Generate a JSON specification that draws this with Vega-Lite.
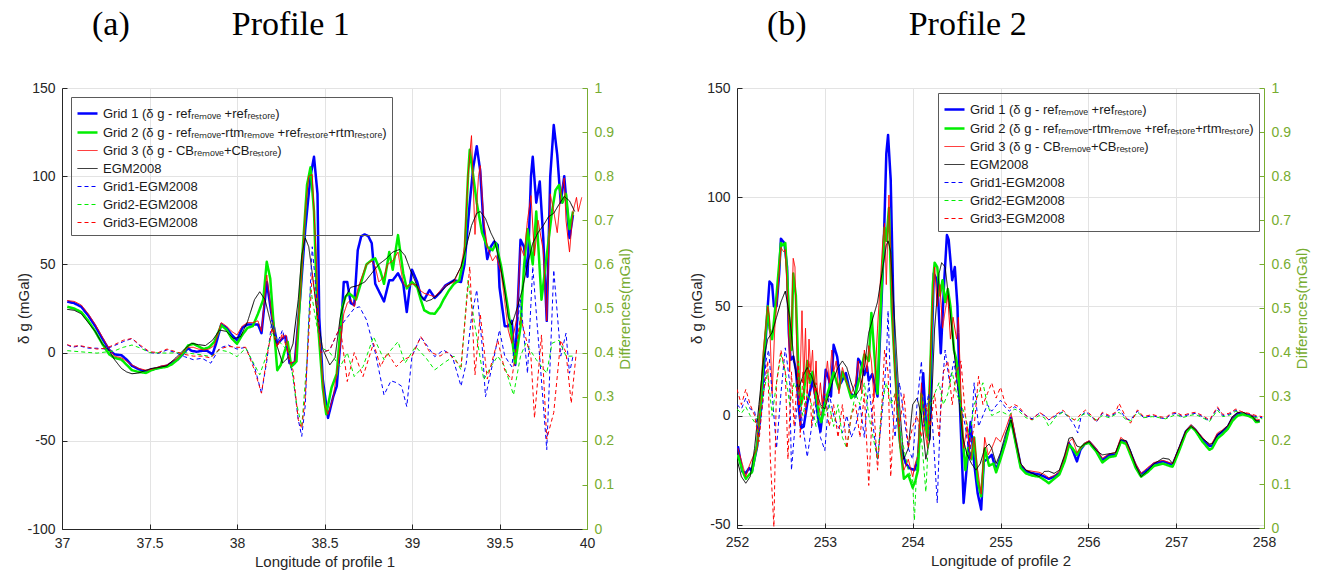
{
  "$schema": "https://vega.github.io/schema/vega-lite/v6.json",
  "padding": {"left": 16, "top": 8, "right": 5, "bottom": 5},
  "config": {
    "locale": {"number": {"decimal": ".", "thousands": ",", "grouping": [3], "currency": ["$", ""], "minus": "-"}},
    "view": {"stroke": null},
    "font": "Liberation Sans",
    "axis": {"labelFont": "Liberation Sans", "labelFontSize": 14, "labelColor": "#262626", "titleFont": "Liberation Sans", "titleFontSize": 15, "titleFontWeight": "normal", "titleColor": "#262626", "domainColor": "#262626", "gridColor": "#e3e3e3", "ticks": true, "tickSize": -5, "tickColor": "#262626", "labelPadding": 12, "labelFlush": false},
    "legend": {"title": null, "fillColor": null, "strokeColor": "#5a5a5a", "padding": 5, "symbolType": "stroke", "symbolSize": 400, "labelFont": "Liberation Sans", "labelFontSize": 13, "labelColor": "#1a1a1a", "rowPadding": -1, "labelLimit": 500},
    "title": {"font": "Liberation Serif", "fontSize": 34, "fontWeight": "normal", "color": "black", "anchor": "start", "frame": "group", "dx": 30, "offset": 39}
  },
  "datasets": {
    "d": [
{"p":1,"s":"g1","x":37.03,"v":29},{"p":1,"s":"g1","x":37.07,"v":28},{"p":1,"s":"g1","x":37.11,"v":26},{"p":1,"s":"g1","x":37.15,"v":21},{"p":1,"s":"g1","x":37.19,"v":15},{"p":1,"s":"g1","x":37.23,"v":8},{"p":1,"s":"g1","x":37.27,"v":1.5},{"p":1,"s":"g1","x":37.3,"v":-1},{"p":1,"s":"g1","x":37.34,"v":-1.5},{"p":1,"s":"g1","x":37.37,"v":-4},{"p":1,"s":"g1","x":37.4,"v":-7.5},{"p":1,"s":"g1","x":37.44,"v":-9.5},{"p":1,"s":"g1","x":37.48,"v":-11},{"p":1,"s":"g1","x":37.51,"v":-9.5},{"p":1,"s":"g1","x":37.54,"v":-9},{"p":1,"s":"g1","x":37.57,"v":-8},{"p":1,"s":"g1","x":37.6,"v":-7.5},{"p":1,"s":"g1","x":37.63,"v":-5.5},{"p":1,"s":"g1","x":37.66,"v":-4},{"p":1,"s":"g1","x":37.69,"v":-1},{"p":1,"s":"g1","x":37.72,"v":2.5},{"p":1,"s":"g1","x":37.74,"v":1},{"p":1,"s":"g1","x":37.77,"v":0.5},{"p":1,"s":"g1","x":37.8,"v":1},{"p":1,"s":"g1","x":37.83,"v":1},{"p":1,"s":"g1","x":37.86,"v":-1},{"p":1,"s":"g1","x":37.88,"v":5},{"p":1,"s":"g1","x":37.91,"v":16},{"p":1,"s":"g1","x":37.94,"v":14},{"p":1,"s":"g1","x":37.97,"v":10},{"p":1,"s":"g1","x":38.0,"v":7},{"p":1,"s":"g1","x":38.03,"v":14},{"p":1,"s":"g1","x":38.06,"v":16},{"p":1,"s":"g1","x":38.09,"v":16},{"p":1,"s":"g1","x":38.12,"v":16},{"p":1,"s":"g1","x":38.14,"v":11},{"p":1,"s":"g1","x":38.17,"v":40},{"p":1,"s":"g1","x":38.2,"v":20},{"p":1,"s":"g1","x":38.23,"v":5},{"p":1,"s":"g1","x":38.26,"v":8},{"p":1,"s":"g1","x":38.28,"v":9},{"p":1,"s":"g1","x":38.3,"v":-6},{"p":1,"s":"g1","x":38.33,"v":-6},{"p":1,"s":"g1","x":38.36,"v":30},{"p":1,"s":"g1","x":38.39,"v":70},{"p":1,"s":"g1","x":38.42,"v":100},{"p":1,"s":"g1","x":38.44,"v":111},{"p":1,"s":"g1","x":38.46,"v":90},{"p":1,"s":"g1","x":38.47,"v":20},{"p":1,"s":"g1","x":38.49,"v":-15},{"p":1,"s":"g1","x":38.52,"v":-37},{"p":1,"s":"g1","x":38.55,"v":-25},{"p":1,"s":"g1","x":38.57,"v":-19},{"p":1,"s":"g1","x":38.59,"v":5},{"p":1,"s":"g1","x":38.61,"v":40},{"p":1,"s":"g1","x":38.63,"v":40},{"p":1,"s":"g1","x":38.65,"v":28},{"p":1,"s":"g1","x":38.67,"v":27},{"p":1,"s":"g1","x":38.69,"v":58},{"p":1,"s":"g1","x":38.71,"v":66},{"p":1,"s":"g1","x":38.73,"v":67},{"p":1,"s":"g1","x":38.75,"v":66},{"p":1,"s":"g1","x":38.77,"v":62},{"p":1,"s":"g1","x":38.79,"v":39},{"p":1,"s":"g1","x":38.82,"v":33},{"p":1,"s":"g1","x":38.84,"v":29},{"p":1,"s":"g1","x":38.87,"v":41},{"p":1,"s":"g1","x":38.89,"v":41},{"p":1,"s":"g1","x":38.92,"v":45},{"p":1,"s":"g1","x":38.95,"v":39},{"p":1,"s":"g1","x":38.97,"v":23},{"p":1,"s":"g1","x":39.0,"v":47},{"p":1,"s":"g1","x":39.03,"v":40},{"p":1,"s":"g1","x":39.05,"v":32},{"p":1,"s":"g1","x":39.07,"v":30},{"p":1,"s":"g1","x":39.1,"v":35.5},{"p":1,"s":"g1","x":39.13,"v":31},{"p":1,"s":"g1","x":39.16,"v":34},{"p":1,"s":"g1","x":39.19,"v":38},{"p":1,"s":"g1","x":39.24,"v":41},{"p":1,"s":"g1","x":39.28,"v":40},{"p":1,"s":"g1","x":39.3,"v":50},{"p":1,"s":"g1","x":39.33,"v":85},{"p":1,"s":"g1","x":39.35,"v":105},{"p":1,"s":"g1","x":39.37,"v":117},{"p":1,"s":"g1","x":39.39,"v":103},{"p":1,"s":"g1","x":39.41,"v":70},{"p":1,"s":"g1","x":39.43,"v":53},{"p":1,"s":"g1","x":39.45,"v":60},{"p":1,"s":"g1","x":39.47,"v":63},{"p":1,"s":"g1","x":39.49,"v":61},{"p":1,"s":"g1","x":39.5,"v":37},{"p":1,"s":"g1","x":39.53,"v":15},{"p":1,"s":"g1","x":39.55,"v":15},{"p":1,"s":"g1","x":39.57,"v":18},{"p":1,"s":"g1","x":39.59,"v":-7},{"p":1,"s":"g1","x":39.62,"v":64},{"p":1,"s":"g1","x":39.64,"v":60},{"p":1,"s":"g1","x":39.66,"v":43},{"p":1,"s":"g1","x":39.68,"v":100},{"p":1,"s":"g1","x":39.69,"v":111},{"p":1,"s":"g1","x":39.71,"v":85},{"p":1,"s":"g1","x":39.73,"v":97},{"p":1,"s":"g1","x":39.75,"v":65},{"p":1,"s":"g1","x":39.77,"v":18},{"p":1,"s":"g1","x":39.79,"v":100},{"p":1,"s":"g1","x":39.81,"v":129},{"p":1,"s":"g1","x":39.83,"v":112},{"p":1,"s":"g1","x":39.85,"v":85},{"p":1,"s":"g1","x":39.87,"v":100},{"p":1,"s":"g1","x":39.9,"v":65},{"p":1,"s":"g1","x":39.92,"v":78},
{"p":1,"s":"g2","x":37.03,"v":26},{"p":1,"s":"g2","x":37.07,"v":25},{"p":1,"s":"g2","x":37.11,"v":23},{"p":1,"s":"g2","x":37.15,"v":18},{"p":1,"s":"g2","x":37.19,"v":12},{"p":1,"s":"g2","x":37.23,"v":5},{"p":1,"s":"g2","x":37.27,"v":-1},{"p":1,"s":"g2","x":37.3,"v":-3},{"p":1,"s":"g2","x":37.34,"v":-4},{"p":1,"s":"g2","x":37.37,"v":-7},{"p":1,"s":"g2","x":37.4,"v":-10},{"p":1,"s":"g2","x":37.44,"v":-11},{"p":1,"s":"g2","x":37.48,"v":-11.5},{"p":1,"s":"g2","x":37.51,"v":-10},{"p":1,"s":"g2","x":37.54,"v":-9},{"p":1,"s":"g2","x":37.57,"v":-8.5},{"p":1,"s":"g2","x":37.6,"v":-8},{"p":1,"s":"g2","x":37.63,"v":-6.5},{"p":1,"s":"g2","x":37.66,"v":-4},{"p":1,"s":"g2","x":37.69,"v":-0.5},{"p":1,"s":"g2","x":37.72,"v":4},{"p":1,"s":"g2","x":37.75,"v":5},{"p":1,"s":"g2","x":37.78,"v":3.5},{"p":1,"s":"g2","x":37.81,"v":2},{"p":1,"s":"g2","x":37.84,"v":3},{"p":1,"s":"g2","x":37.87,"v":6},{"p":1,"s":"g2","x":37.91,"v":15.5},{"p":1,"s":"g2","x":37.94,"v":13},{"p":1,"s":"g2","x":37.97,"v":8},{"p":1,"s":"g2","x":38.0,"v":5},{"p":1,"s":"g2","x":38.03,"v":10},{"p":1,"s":"g2","x":38.06,"v":14},{"p":1,"s":"g2","x":38.09,"v":15},{"p":1,"s":"g2","x":38.12,"v":22},{"p":1,"s":"g2","x":38.15,"v":30},{"p":1,"s":"g2","x":38.17,"v":51.5},{"p":1,"s":"g2","x":38.19,"v":42},{"p":1,"s":"g2","x":38.21,"v":15},{"p":1,"s":"g2","x":38.23,"v":-10},{"p":1,"s":"g2","x":38.25,"v":-7},{"p":1,"s":"g2","x":38.27,"v":0},{"p":1,"s":"g2","x":38.29,"v":6},{"p":1,"s":"g2","x":38.31,"v":-8},{"p":1,"s":"g2","x":38.34,"v":-5},{"p":1,"s":"g2","x":38.37,"v":50},{"p":1,"s":"g2","x":38.4,"v":95},{"p":1,"s":"g2","x":38.42,"v":105},{"p":1,"s":"g2","x":38.44,"v":80},{"p":1,"s":"g2","x":38.46,"v":20},{"p":1,"s":"g2","x":38.49,"v":-20},{"p":1,"s":"g2","x":38.51,"v":-35},{"p":1,"s":"g2","x":38.54,"v":-20},{"p":1,"s":"g2","x":38.57,"v":-12},{"p":1,"s":"g2","x":38.6,"v":25},{"p":1,"s":"g2","x":38.62,"v":31.7},{"p":1,"s":"g2","x":38.64,"v":33.6},{"p":1,"s":"g2","x":38.66,"v":32},{"p":1,"s":"g2","x":38.68,"v":30},{"p":1,"s":"g2","x":38.71,"v":40},{"p":1,"s":"g2","x":38.74,"v":50},{"p":1,"s":"g2","x":38.77,"v":52.5},{"p":1,"s":"g2","x":38.79,"v":53.4},{"p":1,"s":"g2","x":38.82,"v":46},{"p":1,"s":"g2","x":38.84,"v":39},{"p":1,"s":"g2","x":38.87,"v":57},{"p":1,"s":"g2","x":38.89,"v":47},{"p":1,"s":"g2","x":38.92,"v":66.6},{"p":1,"s":"g2","x":38.95,"v":45},{"p":1,"s":"g2","x":38.97,"v":36.4},{"p":1,"s":"g2","x":39.0,"v":40},{"p":1,"s":"g2","x":39.03,"v":37},{"p":1,"s":"g2","x":39.05,"v":30},{"p":1,"s":"g2","x":39.07,"v":24},{"p":1,"s":"g2","x":39.1,"v":22.3},{"p":1,"s":"g2","x":39.13,"v":22},{"p":1,"s":"g2","x":39.16,"v":26},{"p":1,"s":"g2","x":39.18,"v":30},{"p":1,"s":"g2","x":39.21,"v":35},{"p":1,"s":"g2","x":39.24,"v":39},{"p":1,"s":"g2","x":39.27,"v":41},{"p":1,"s":"g2","x":39.3,"v":55},{"p":1,"s":"g2","x":39.32,"v":100},{"p":1,"s":"g2","x":39.33,"v":115},{"p":1,"s":"g2","x":39.35,"v":100},{"p":1,"s":"g2","x":39.37,"v":85},{"p":1,"s":"g2","x":39.4,"v":68},{"p":1,"s":"g2","x":39.43,"v":60},{"p":1,"s":"g2","x":39.46,"v":58},{"p":1,"s":"g2","x":39.48,"v":62},{"p":1,"s":"g2","x":39.51,"v":48.7},{"p":1,"s":"g2","x":39.55,"v":24},{"p":1,"s":"g2","x":39.59,"v":-6},{"p":1,"s":"g2","x":39.62,"v":14.7},{"p":1,"s":"g2","x":39.64,"v":48.7},{"p":1,"s":"g2","x":39.66,"v":70},{"p":1,"s":"g2","x":39.69,"v":50},{"p":1,"s":"g2","x":39.71,"v":80},{"p":1,"s":"g2","x":39.74,"v":30},{"p":1,"s":"g2","x":39.77,"v":55},{"p":1,"s":"g2","x":39.8,"v":80},{"p":1,"s":"g2","x":39.82,"v":92},{"p":1,"s":"g2","x":39.84,"v":95},{"p":1,"s":"g2","x":39.86,"v":85},{"p":1,"s":"g2","x":39.88,"v":90},{"p":1,"s":"g2","x":39.9,"v":70},{"p":1,"s":"g2","x":39.92,"v":80},
{"p":1,"s":"g3","x":37.03,"v":29.5},{"p":1,"s":"g3","x":37.07,"v":29},{"p":1,"s":"g3","x":37.11,"v":27},{"p":1,"s":"g3","x":37.15,"v":22},{"p":1,"s":"g3","x":37.19,"v":16},{"p":1,"s":"g3","x":37.23,"v":9},{"p":1,"s":"g3","x":37.27,"v":2},{"p":1,"s":"g3","x":37.3,"v":-2},{"p":1,"s":"g3","x":37.34,"v":-3},{"p":1,"s":"g3","x":37.37,"v":-5},{"p":1,"s":"g3","x":37.4,"v":-7},{"p":1,"s":"g3","x":37.44,"v":-9},{"p":1,"s":"g3","x":37.48,"v":-10},{"p":1,"s":"g3","x":37.51,"v":-9.5},{"p":1,"s":"g3","x":37.54,"v":-8.5},{"p":1,"s":"g3","x":37.57,"v":-7.5},{"p":1,"s":"g3","x":37.6,"v":-7},{"p":1,"s":"g3","x":37.63,"v":-5},{"p":1,"s":"g3","x":37.66,"v":-3},{"p":1,"s":"g3","x":37.69,"v":0},{"p":1,"s":"g3","x":37.72,"v":3},{"p":1,"s":"g3","x":37.75,"v":3},{"p":1,"s":"g3","x":37.78,"v":2},{"p":1,"s":"g3","x":37.81,"v":1.5},{"p":1,"s":"g3","x":37.84,"v":2},{"p":1,"s":"g3","x":37.87,"v":4},{"p":1,"s":"g3","x":37.91,"v":17},{"p":1,"s":"g3","x":37.94,"v":15},{"p":1,"s":"g3","x":37.97,"v":12},{"p":1,"s":"g3","x":38.0,"v":10},{"p":1,"s":"g3","x":38.03,"v":15},{"p":1,"s":"g3","x":38.06,"v":17},{"p":1,"s":"g3","x":38.09,"v":17},{"p":1,"s":"g3","x":38.12,"v":18},{"p":1,"s":"g3","x":38.14,"v":12},{"p":1,"s":"g3","x":38.17,"v":44},{"p":1,"s":"g3","x":38.2,"v":20},{"p":1,"s":"g3","x":38.23,"v":4},{"p":1,"s":"g3","x":38.26,"v":9},{"p":1,"s":"g3","x":38.28,"v":10},{"p":1,"s":"g3","x":38.3,"v":-6},{"p":1,"s":"g3","x":38.33,"v":-5},{"p":1,"s":"g3","x":38.36,"v":30},{"p":1,"s":"g3","x":38.39,"v":80},{"p":1,"s":"g3","x":38.41,"v":100},{"p":1,"s":"g3","x":38.43,"v":101},{"p":1,"s":"g3","x":38.45,"v":60},{"p":1,"s":"g3","x":38.47,"v":10},{"p":1,"s":"g3","x":38.5,"v":-30},{"p":1,"s":"g3","x":38.52,"v":-35},{"p":1,"s":"g3","x":38.55,"v":-25},{"p":1,"s":"g3","x":38.58,"v":-5},{"p":1,"s":"g3","x":38.61,"v":22},{"p":1,"s":"g3","x":38.63,"v":28},{"p":1,"s":"g3","x":38.65,"v":30},{"p":1,"s":"g3","x":38.67,"v":26},{"p":1,"s":"g3","x":38.69,"v":36},{"p":1,"s":"g3","x":38.71,"v":42},{"p":1,"s":"g3","x":38.74,"v":50},{"p":1,"s":"g3","x":38.77,"v":52},{"p":1,"s":"g3","x":38.79,"v":48.7},{"p":1,"s":"g3","x":38.81,"v":40},{"p":1,"s":"g3","x":38.84,"v":43},{"p":1,"s":"g3","x":38.86,"v":50},{"p":1,"s":"g3","x":38.89,"v":52},{"p":1,"s":"g3","x":38.92,"v":57},{"p":1,"s":"g3","x":38.95,"v":39},{"p":1,"s":"g3","x":38.97,"v":37.4},{"p":1,"s":"g3","x":39.0,"v":39},{"p":1,"s":"g3","x":39.03,"v":38},{"p":1,"s":"g3","x":39.05,"v":35},{"p":1,"s":"g3","x":39.07,"v":33.6},{"p":1,"s":"g3","x":39.1,"v":32.6},{"p":1,"s":"g3","x":39.13,"v":31.7},{"p":1,"s":"g3","x":39.16,"v":35},{"p":1,"s":"g3","x":39.19,"v":38},{"p":1,"s":"g3","x":39.24,"v":40},{"p":1,"s":"g3","x":39.28,"v":48.7},{"p":1,"s":"g3","x":39.3,"v":60},{"p":1,"s":"g3","x":39.32,"v":100},{"p":1,"s":"g3","x":39.34,"v":123},{"p":1,"s":"g3","x":39.36,"v":67},{"p":1,"s":"g3","x":39.38,"v":100},{"p":1,"s":"g3","x":39.39,"v":106},{"p":1,"s":"g3","x":39.41,"v":75},{"p":1,"s":"g3","x":39.43,"v":60},{"p":1,"s":"g3","x":39.46,"v":52},{"p":1,"s":"g3","x":39.48,"v":55},{"p":1,"s":"g3","x":39.51,"v":45},{"p":1,"s":"g3","x":39.55,"v":12.8},{"p":1,"s":"g3","x":39.57,"v":5.3},{"p":1,"s":"g3","x":39.6,"v":20},{"p":1,"s":"g3","x":39.62,"v":60},{"p":1,"s":"g3","x":39.64,"v":55},{"p":1,"s":"g3","x":39.66,"v":75},{"p":1,"s":"g3","x":39.68,"v":89},{"p":1,"s":"g3","x":39.7,"v":55},{"p":1,"s":"g3","x":39.72,"v":75},{"p":1,"s":"g3","x":39.75,"v":58},{"p":1,"s":"g3","x":39.77,"v":18},{"p":1,"s":"g3","x":39.79,"v":90},{"p":1,"s":"g3","x":39.81,"v":80},{"p":1,"s":"g3","x":39.83,"v":68},{"p":1,"s":"g3","x":39.85,"v":90},{"p":1,"s":"g3","x":39.87,"v":99},{"p":1,"s":"g3","x":39.88,"v":75},{"p":1,"s":"g3","x":39.9,"v":57},{"p":1,"s":"g3","x":39.92,"v":80},{"p":1,"s":"g3","x":39.94,"v":88},{"p":1,"s":"g3","x":39.95,"v":80},{"p":1,"s":"g3","x":39.97,"v":88},
{"p":1,"s":"e","x":37.03,"v":24.5},{"p":1,"s":"e","x":37.07,"v":24},{"p":1,"s":"e","x":37.11,"v":22},{"p":1,"s":"e","x":37.15,"v":17},{"p":1,"s":"e","x":37.19,"v":12},{"p":1,"s":"e","x":37.23,"v":5},{"p":1,"s":"e","x":37.27,"v":1},{"p":1,"s":"e","x":37.3,"v":-4},{"p":1,"s":"e","x":37.34,"v":-9},{"p":1,"s":"e","x":37.37,"v":-11},{"p":1,"s":"e","x":37.4,"v":-12},{"p":1,"s":"e","x":37.44,"v":-11.5},{"p":1,"s":"e","x":37.48,"v":-10},{"p":1,"s":"e","x":37.51,"v":-9},{"p":1,"s":"e","x":37.55,"v":-8.5},{"p":1,"s":"e","x":37.6,"v":-7.5},{"p":1,"s":"e","x":37.65,"v":-3},{"p":1,"s":"e","x":37.7,"v":2},{"p":1,"s":"e","x":37.74,"v":5.3},{"p":1,"s":"e","x":37.78,"v":4.5},{"p":1,"s":"e","x":37.82,"v":4},{"p":1,"s":"e","x":37.86,"v":7},{"p":1,"s":"e","x":37.9,"v":12.8},{"p":1,"s":"e","x":37.94,"v":12},{"p":1,"s":"e","x":37.98,"v":8},{"p":1,"s":"e","x":38.02,"v":9},{"p":1,"s":"e","x":38.06,"v":17.5},{"p":1,"s":"e","x":38.1,"v":30},{"p":1,"s":"e","x":38.13,"v":34.5},{"p":1,"s":"e","x":38.16,"v":30},{"p":1,"s":"e","x":38.19,"v":18},{"p":1,"s":"e","x":38.23,"v":3.4},{"p":1,"s":"e","x":38.26,"v":-6},{"p":1,"s":"e","x":38.29,"v":-3},{"p":1,"s":"e","x":38.32,"v":5},{"p":1,"s":"e","x":38.35,"v":30},{"p":1,"s":"e","x":38.37,"v":55},{"p":1,"s":"e","x":38.39,"v":65},{"p":1,"s":"e","x":38.41,"v":60},{"p":1,"s":"e","x":38.43,"v":45},{"p":1,"s":"e","x":38.46,"v":20},{"p":1,"s":"e","x":38.49,"v":2},{"p":1,"s":"e","x":38.53,"v":-7},{"p":1,"s":"e","x":38.56,"v":-3},{"p":1,"s":"e","x":38.59,"v":20},{"p":1,"s":"e","x":38.62,"v":31.7},{"p":1,"s":"e","x":38.65,"v":37},{"p":1,"s":"e","x":38.69,"v":38},{"p":1,"s":"e","x":38.73,"v":40},{"p":1,"s":"e","x":38.77,"v":45},{"p":1,"s":"e","x":38.81,"v":50},{"p":1,"s":"e","x":38.85,"v":53},{"p":1,"s":"e","x":38.89,"v":57},{"p":1,"s":"e","x":38.93,"v":58.5},{"p":1,"s":"e","x":38.96,"v":55},{"p":1,"s":"e","x":38.99,"v":47},{"p":1,"s":"e","x":39.02,"v":40},{"p":1,"s":"e","x":39.05,"v":32},{"p":1,"s":"e","x":39.08,"v":29},{"p":1,"s":"e","x":39.11,"v":30},{"p":1,"s":"e","x":39.15,"v":33},{"p":1,"s":"e","x":39.2,"v":38},{"p":1,"s":"e","x":39.24,"v":41},{"p":1,"s":"e","x":39.28,"v":48.7},{"p":1,"s":"e","x":39.31,"v":60},{"p":1,"s":"e","x":39.34,"v":72},{"p":1,"s":"e","x":39.37,"v":79},{"p":1,"s":"e","x":39.39,"v":80},{"p":1,"s":"e","x":39.42,"v":76},{"p":1,"s":"e","x":39.45,"v":68},{"p":1,"s":"e","x":39.47,"v":64},{"p":1,"s":"e","x":39.5,"v":52},{"p":1,"s":"e","x":39.53,"v":35},{"p":1,"s":"e","x":39.55,"v":20},{"p":1,"s":"e","x":39.57,"v":15.7},{"p":1,"s":"e","x":39.6,"v":25},{"p":1,"s":"e","x":39.63,"v":35.5},{"p":1,"s":"e","x":39.66,"v":50},{"p":1,"s":"e","x":39.69,"v":62},{"p":1,"s":"e","x":39.72,"v":68},{"p":1,"s":"e","x":39.75,"v":72},{"p":1,"s":"e","x":39.78,"v":77},{"p":1,"s":"e","x":39.81,"v":79},{"p":1,"s":"e","x":39.84,"v":84},{"p":1,"s":"e","x":39.87,"v":88.5},{"p":1,"s":"e","x":39.9,"v":86},{"p":1,"s":"e","x":39.93,"v":80},
{"p":1,"s":"d1","x":37.03,"v":4.3},{"p":1,"s":"d1","x":37.06,"v":3},{"p":1,"s":"d1","x":37.1,"v":3.8},{"p":1,"s":"d1","x":37.15,"v":2.5},{"p":1,"s":"d1","x":37.2,"v":2.5},{"p":1,"s":"d1","x":37.25,"v":2},{"p":1,"s":"d1","x":37.3,"v":4},{"p":1,"s":"d1","x":37.35,"v":6.2},{"p":1,"s":"d1","x":37.4,"v":8},{"p":1,"s":"d1","x":37.45,"v":3.4},{"p":1,"s":"d1","x":37.5,"v":0},{"p":1,"s":"d1","x":37.55,"v":-0.5},{"p":1,"s":"d1","x":37.6,"v":1.5},{"p":1,"s":"d1","x":37.65,"v":0},{"p":1,"s":"d1","x":37.7,"v":-2.3},{"p":1,"s":"d1","x":37.75,"v":-4},{"p":1,"s":"d1","x":37.8,"v":-3.2},{"p":1,"s":"d1","x":37.85,"v":-6},{"p":1,"s":"d1","x":37.9,"v":2.5},{"p":1,"s":"d1","x":37.95,"v":4.3},{"p":1,"s":"d1","x":38.0,"v":2},{"p":1,"s":"d1","x":38.05,"v":3},{"p":1,"s":"d1","x":38.1,"v":-8},{"p":1,"s":"d1","x":38.14,"v":-23},{"p":1,"s":"d1","x":38.17,"v":-5},{"p":1,"s":"d1","x":38.2,"v":18.5},{"p":1,"s":"d1","x":38.23,"v":5.3},{"p":1,"s":"d1","x":38.26,"v":12.8},{"p":1,"s":"d1","x":38.29,"v":0},{"p":1,"s":"d1","x":38.32,"v":-13.6},{"p":1,"s":"d1","x":38.35,"v":-38},{"p":1,"s":"d1","x":38.37,"v":-47.5},{"p":1,"s":"d1","x":38.39,"v":-30},{"p":1,"s":"d1","x":38.41,"v":18.5},{"p":1,"s":"d1","x":38.43,"v":60},{"p":1,"s":"d1","x":38.45,"v":37},{"p":1,"s":"d1","x":38.48,"v":0},{"p":1,"s":"d1","x":38.53,"v":1.5},{"p":1,"s":"d1","x":38.59,"v":14.7},{"p":1,"s":"d1","x":38.63,"v":20},{"p":1,"s":"d1","x":38.67,"v":25},{"p":1,"s":"d1","x":38.7,"v":26},{"p":1,"s":"d1","x":38.74,"v":18.5},{"p":1,"s":"d1","x":38.79,"v":0},{"p":1,"s":"d1","x":38.84,"v":-24},{"p":1,"s":"d1","x":38.88,"v":-16},{"p":1,"s":"d1","x":38.91,"v":-17},{"p":1,"s":"d1","x":38.94,"v":-19},{"p":1,"s":"d1","x":38.97,"v":-30.6},{"p":1,"s":"d1","x":39.0,"v":-2},{"p":1,"s":"d1","x":39.05,"v":9},{"p":1,"s":"d1","x":39.09,"v":3.4},{"p":1,"s":"d1","x":39.13,"v":-2.3},{"p":1,"s":"d1","x":39.18,"v":1.5},{"p":1,"s":"d1","x":39.23,"v":-2},{"p":1,"s":"d1","x":39.28,"v":-19},{"p":1,"s":"d1","x":39.31,"v":-6},{"p":1,"s":"d1","x":39.34,"v":20},{"p":1,"s":"d1","x":39.37,"v":35.5},{"p":1,"s":"d1","x":39.4,"v":5},{"p":1,"s":"d1","x":39.42,"v":-25},{"p":1,"s":"d1","x":39.47,"v":-2},{"p":1,"s":"d1","x":39.5,"v":12.8},{"p":1,"s":"d1","x":39.53,"v":-2},{"p":1,"s":"d1","x":39.57,"v":-8},{"p":1,"s":"d1","x":39.62,"v":30},{"p":1,"s":"d1","x":39.66,"v":-11.7},{"p":1,"s":"d1","x":39.69,"v":48.7},{"p":1,"s":"d1","x":39.73,"v":-3},{"p":1,"s":"d1","x":39.77,"v":-55},{"p":1,"s":"d1","x":39.81,"v":46.8},{"p":1,"s":"d1","x":39.85,"v":-2},{"p":1,"s":"d1","x":39.88,"v":11},{"p":1,"s":"d1","x":39.9,"v":-11.7},{"p":1,"s":"d1","x":39.92,"v":-2},
{"p":1,"s":"d2","x":37.03,"v":1.1},{"p":1,"s":"d2","x":37.1,"v":0.5},{"p":1,"s":"d2","x":37.2,"v":-0.3},{"p":1,"s":"d2","x":37.3,"v":1},{"p":1,"s":"d2","x":37.35,"v":3},{"p":1,"s":"d2","x":37.4,"v":4.3},{"p":1,"s":"d2","x":37.45,"v":2.5},{"p":1,"s":"d2","x":37.5,"v":0},{"p":1,"s":"d2","x":37.6,"v":-0.3},{"p":1,"s":"d2","x":37.7,"v":0},{"p":1,"s":"d2","x":37.8,"v":-1.3},{"p":1,"s":"d2","x":37.85,"v":-2.3},{"p":1,"s":"d2","x":37.9,"v":1.5},{"p":1,"s":"d2","x":37.95,"v":0.5},{"p":1,"s":"d2","x":38.0,"v":-2.3},{"p":1,"s":"d2","x":38.05,"v":2.5},{"p":1,"s":"d2","x":38.1,"v":-7},{"p":1,"s":"d2","x":38.13,"v":-12.6},{"p":1,"s":"d2","x":38.16,"v":-4},{"p":1,"s":"d2","x":38.2,"v":11},{"p":1,"s":"d2","x":38.25,"v":5.3},{"p":1,"s":"d2","x":38.3,"v":0},{"p":1,"s":"d2","x":38.34,"v":-28.7},{"p":1,"s":"d2","x":38.37,"v":-42},{"p":1,"s":"d2","x":38.4,"v":-4},{"p":1,"s":"d2","x":38.42,"v":37},{"p":1,"s":"d2","x":38.45,"v":18.5},{"p":1,"s":"d2","x":38.48,"v":3},{"p":1,"s":"d2","x":38.53,"v":0},{"p":1,"s":"d2","x":38.59,"v":-8},{"p":1,"s":"d2","x":38.63,"v":0},{"p":1,"s":"d2","x":38.67,"v":-13.6},{"p":1,"s":"d2","x":38.72,"v":-8},{"p":1,"s":"d2","x":38.78,"v":9},{"p":1,"s":"d2","x":38.84,"v":-4},{"p":1,"s":"d2","x":38.88,"v":1.5},{"p":1,"s":"d2","x":38.92,"v":6.2},{"p":1,"s":"d2","x":38.96,"v":-6},{"p":1,"s":"d2","x":39.02,"v":3.4},{"p":1,"s":"d2","x":39.08,"v":-3},{"p":1,"s":"d2","x":39.13,"v":-9.8},{"p":1,"s":"d2","x":39.18,"v":-6},{"p":1,"s":"d2","x":39.24,"v":-2},{"p":1,"s":"d2","x":39.28,"v":-9.8},{"p":1,"s":"d2","x":39.32,"v":41},{"p":1,"s":"d2","x":39.36,"v":15},{"p":1,"s":"d2","x":39.41,"v":-15.5},{"p":1,"s":"d2","x":39.45,"v":-8},{"p":1,"s":"d2","x":39.49,"v":-2},{"p":1,"s":"d2","x":39.53,"v":-8},{"p":1,"s":"d2","x":39.58,"v":-24},{"p":1,"s":"d2","x":39.62,"v":-2},{"p":1,"s":"d2","x":39.65,"v":5.3},{"p":1,"s":"d2","x":39.71,"v":-4},{"p":1,"s":"d2","x":39.77,"v":-11.7},{"p":1,"s":"d2","x":39.8,"v":5.3},{"p":1,"s":"d2","x":39.84,"v":7},{"p":1,"s":"d2","x":39.88,"v":-2},{"p":1,"s":"d2","x":39.92,"v":-2},
{"p":1,"s":"d3","x":37.03,"v":4.5},{"p":1,"s":"d3","x":37.06,"v":3.5},{"p":1,"s":"d3","x":37.1,"v":4},{"p":1,"s":"d3","x":37.15,"v":3},{"p":1,"s":"d3","x":37.2,"v":2},{"p":1,"s":"d3","x":37.25,"v":2.5},{"p":1,"s":"d3","x":37.3,"v":4.5},{"p":1,"s":"d3","x":37.35,"v":7},{"p":1,"s":"d3","x":37.4,"v":8},{"p":1,"s":"d3","x":37.45,"v":4},{"p":1,"s":"d3","x":37.5,"v":0.5},{"p":1,"s":"d3","x":37.55,"v":0},{"p":1,"s":"d3","x":37.6,"v":2},{"p":1,"s":"d3","x":37.65,"v":0.5},{"p":1,"s":"d3","x":37.7,"v":-1},{"p":1,"s":"d3","x":37.75,"v":-2},{"p":1,"s":"d3","x":37.8,"v":-2},{"p":1,"s":"d3","x":37.85,"v":-3},{"p":1,"s":"d3","x":37.9,"v":2},{"p":1,"s":"d3","x":37.95,"v":3.5},{"p":1,"s":"d3","x":38.0,"v":3},{"p":1,"s":"d3","x":38.05,"v":3},{"p":1,"s":"d3","x":38.1,"v":-10},{"p":1,"s":"d3","x":38.14,"v":-23},{"p":1,"s":"d3","x":38.17,"v":-3},{"p":1,"s":"d3","x":38.2,"v":14},{"p":1,"s":"d3","x":38.23,"v":3},{"p":1,"s":"d3","x":38.26,"v":11},{"p":1,"s":"d3","x":38.29,"v":0},{"p":1,"s":"d3","x":38.32,"v":-10},{"p":1,"s":"d3","x":38.35,"v":-38},{"p":1,"s":"d3","x":38.37,"v":-43},{"p":1,"s":"d3","x":38.39,"v":-25},{"p":1,"s":"d3","x":38.41,"v":10},{"p":1,"s":"d3","x":38.43,"v":45},{"p":1,"s":"d3","x":38.45,"v":30},{"p":1,"s":"d3","x":38.48,"v":0},{"p":1,"s":"d3","x":38.53,"v":1.5},{"p":1,"s":"d3","x":38.59,"v":14.7},{"p":1,"s":"d3","x":38.63,"v":-16.4},{"p":1,"s":"d3","x":38.67,"v":0},{"p":1,"s":"d3","x":38.72,"v":-13.6},{"p":1,"s":"d3","x":38.78,"v":5.3},{"p":1,"s":"d3","x":38.82,"v":-8},{"p":1,"s":"d3","x":38.86,"v":0},{"p":1,"s":"d3","x":38.91,"v":-8},{"p":1,"s":"d3","x":38.95,"v":-4},{"p":1,"s":"d3","x":39.0,"v":-2},{"p":1,"s":"d3","x":39.05,"v":9},{"p":1,"s":"d3","x":39.1,"v":0.5},{"p":1,"s":"d3","x":39.16,"v":-2},{"p":1,"s":"d3","x":39.2,"v":0.5},{"p":1,"s":"d3","x":39.28,"v":-8},{"p":1,"s":"d3","x":39.33,"v":48.7},{"p":1,"s":"d3","x":39.36,"v":-12.6},{"p":1,"s":"d3","x":39.39,"v":22},{"p":1,"s":"d3","x":39.43,"v":-15},{"p":1,"s":"d3","x":39.49,"v":7},{"p":1,"s":"d3","x":39.53,"v":-10},{"p":1,"s":"d3","x":39.57,"v":-15.5},{"p":1,"s":"d3","x":39.62,"v":20},{"p":1,"s":"d3","x":39.68,"v":-3},{"p":1,"s":"d3","x":39.7,"v":-37},{"p":1,"s":"d3","x":39.74,"v":10},{"p":1,"s":"d3","x":39.77,"v":-49},{"p":1,"s":"d3","x":39.81,"v":-34},{"p":1,"s":"d3","x":39.85,"v":7},{"p":1,"s":"d3","x":39.88,"v":0},{"p":1,"s":"d3","x":39.91,"v":-28.7},{"p":1,"s":"d3","x":39.94,"v":1.5},
{"p":2,"s":"g1","x":252.01,"v":-14},{"p":2,"s":"g1","x":252.06,"v":-25.6},{"p":2,"s":"g1","x":252.1,"v":-26.4},{"p":2,"s":"g1","x":252.14,"v":-24},{"p":2,"s":"g1","x":252.17,"v":-25.6},{"p":2,"s":"g1","x":252.23,"v":-14},{"p":2,"s":"g1","x":252.27,"v":2.6},{"p":2,"s":"g1","x":252.31,"v":24},{"p":2,"s":"g1","x":252.35,"v":50},{"p":2,"s":"g1","x":252.37,"v":61.4},{"p":2,"s":"g1","x":252.4,"v":60},{"p":2,"s":"g1","x":252.42,"v":50},{"p":2,"s":"g1","x":252.45,"v":50},{"p":2,"s":"g1","x":252.48,"v":65},{"p":2,"s":"g1","x":252.5,"v":81},{"p":2,"s":"g1","x":252.54,"v":79},{"p":2,"s":"g1","x":252.57,"v":68},{"p":2,"s":"g1","x":252.59,"v":37.7},{"p":2,"s":"g1","x":252.61,"v":25.5},{"p":2,"s":"g1","x":252.64,"v":27},{"p":2,"s":"g1","x":252.67,"v":21},{"p":2,"s":"g1","x":252.71,"v":1},{"p":2,"s":"g1","x":252.73,"v":-5.8},{"p":2,"s":"g1","x":252.76,"v":-5},{"p":2,"s":"g1","x":252.8,"v":5.6},{"p":2,"s":"g1","x":252.86,"v":16},{"p":2,"s":"g1","x":252.9,"v":7},{"p":2,"s":"g1","x":252.93,"v":-3.5},{"p":2,"s":"g1","x":252.95,"v":-7.3},{"p":2,"s":"g1","x":252.98,"v":2.6},{"p":2,"s":"g1","x":253.01,"v":21},{"p":2,"s":"g1","x":253.05,"v":16},{"p":2,"s":"g1","x":253.07,"v":8.7},{"p":2,"s":"g1","x":253.1,"v":32.4},{"p":2,"s":"g1","x":253.14,"v":27},{"p":2,"s":"g1","x":253.18,"v":14.8},{"p":2,"s":"g1","x":253.24,"v":19.4},{"p":2,"s":"g1","x":253.29,"v":10},{"p":2,"s":"g1","x":253.35,"v":8.7},{"p":2,"s":"g1","x":253.38,"v":26},{"p":2,"s":"g1","x":253.41,"v":24},{"p":2,"s":"g1","x":253.45,"v":18.6},{"p":2,"s":"g1","x":253.48,"v":22.4},{"p":2,"s":"g1","x":253.5,"v":16},{"p":2,"s":"g1","x":253.54,"v":19},{"p":2,"s":"g1","x":253.6,"v":8.7},{"p":2,"s":"g1","x":253.64,"v":46.9},{"p":2,"s":"g1","x":253.67,"v":77},{"p":2,"s":"g1","x":253.7,"v":120},{"p":2,"s":"g1","x":253.72,"v":128.5},{"p":2,"s":"g1","x":253.75,"v":108},{"p":2,"s":"g1","x":253.77,"v":70},{"p":2,"s":"g1","x":253.79,"v":31.6},{"p":2,"s":"g1","x":253.83,"v":4},{"p":2,"s":"g1","x":253.86,"v":-14},{"p":2,"s":"g1","x":253.92,"v":-21.8},{"p":2,"s":"g1","x":253.96,"v":-24},{"p":2,"s":"g1","x":254.02,"v":-25},{"p":2,"s":"g1","x":254.06,"v":-20},{"p":2,"s":"g1","x":254.08,"v":-6.6},{"p":2,"s":"g1","x":254.12,"v":19.4},{"p":2,"s":"g1","x":254.15,"v":-3},{"p":2,"s":"g1","x":254.19,"v":-11},{"p":2,"s":"g1","x":254.24,"v":65},{"p":2,"s":"g1","x":254.28,"v":62},{"p":2,"s":"g1","x":254.32,"v":28.5},{"p":2,"s":"g1","x":254.36,"v":62},{"p":2,"s":"g1","x":254.39,"v":82.7},{"p":2,"s":"g1","x":254.41,"v":80.5},{"p":2,"s":"g1","x":254.45,"v":62},{"p":2,"s":"g1","x":254.48,"v":68},{"p":2,"s":"g1","x":254.51,"v":50},{"p":2,"s":"g1","x":254.54,"v":2.6},{"p":2,"s":"g1","x":254.58,"v":-40},{"p":2,"s":"g1","x":254.62,"v":-21.8},{"p":2,"s":"g1","x":254.66,"v":-3},{"p":2,"s":"g1","x":254.7,"v":-21.8},{"p":2,"s":"g1","x":254.74,"v":-35.6},{"p":2,"s":"g1","x":254.78,"v":-43},{"p":2,"s":"g1","x":254.81,"v":-21},{"p":2,"s":"g1","x":254.85,"v":-20},{"p":2,"s":"g1","x":254.9,"v":-18},{"p":2,"s":"g1","x":254.95,"v":-25},{"p":2,"s":"g1","x":255.0,"v":-18.8},{"p":2,"s":"g1","x":255.06,"v":-11},{"p":2,"s":"g1","x":255.12,"v":-1},{"p":2,"s":"g1","x":255.17,"v":-11},{"p":2,"s":"g1","x":255.23,"v":-23},{"p":2,"s":"g1","x":255.29,"v":-25.6},{"p":2,"s":"g1","x":255.36,"v":-26.4},{"p":2,"s":"g1","x":255.44,"v":-27},{"p":2,"s":"g1","x":255.5,"v":-28},{"p":2,"s":"g1","x":255.55,"v":-29},{"p":2,"s":"g1","x":255.61,"v":-28},{"p":2,"s":"g1","x":255.67,"v":-26.4},{"p":2,"s":"g1","x":255.73,"v":-20},{"p":2,"s":"g1","x":255.78,"v":-12.7},{"p":2,"s":"g1","x":255.82,"v":-15.7},{"p":2,"s":"g1","x":255.87,"v":-21},{"p":2,"s":"g1","x":255.91,"v":-15.7},{"p":2,"s":"g1","x":255.96,"v":-13},{"p":2,"s":"g1","x":256.01,"v":-12},{"p":2,"s":"g1","x":256.09,"v":-15.7},{"p":2,"s":"g1","x":256.16,"v":-20.5},{"p":2,"s":"g1","x":256.24,"v":-18},{"p":2,"s":"g1","x":256.31,"v":-18},{"p":2,"s":"g1","x":256.37,"v":-11.5},{"p":2,"s":"g1","x":256.43,"v":-12},{"p":2,"s":"g1","x":256.48,"v":-17},{"p":2,"s":"g1","x":256.54,"v":-23},{"p":2,"s":"g1","x":256.6,"v":-27},{"p":2,"s":"g1","x":256.67,"v":-25},{"p":2,"s":"g1","x":256.75,"v":-22},{"p":2,"s":"g1","x":256.85,"v":-21},{"p":2,"s":"g1","x":256.92,"v":-22},{"p":2,"s":"g1","x":256.96,"v":-22.5},{"p":2,"s":"g1","x":257.03,"v":-15.7},{"p":2,"s":"g1","x":257.11,"v":-7.3},{"p":2,"s":"g1","x":257.17,"v":-4.7},{"p":2,"s":"g1","x":257.22,"v":-6.6},{"p":2,"s":"g1","x":257.3,"v":-11},{"p":2,"s":"g1","x":257.38,"v":-14},{"p":2,"s":"g1","x":257.41,"v":-14},{"p":2,"s":"g1","x":257.47,"v":-9},{"p":2,"s":"g1","x":257.53,"v":-7.3},{"p":2,"s":"g1","x":257.59,"v":-5},{"p":2,"s":"g1","x":257.64,"v":-1.2},{"p":2,"s":"g1","x":257.7,"v":1},{"p":2,"s":"g1","x":257.76,"v":1},{"p":2,"s":"g1","x":257.81,"v":0.3},{"p":2,"s":"g1","x":257.87,"v":-0.5},{"p":2,"s":"g1","x":257.91,"v":-2.7},{"p":2,"s":"g1","x":257.95,"v":-2.5},
{"p":2,"s":"g2","x":252.01,"v":-18},{"p":2,"s":"g2","x":252.06,"v":-25},{"p":2,"s":"g2","x":252.1,"v":-29},{"p":2,"s":"g2","x":252.14,"v":-27},{"p":2,"s":"g2","x":252.17,"v":-26},{"p":2,"s":"g2","x":252.23,"v":-13},{"p":2,"s":"g2","x":252.27,"v":5},{"p":2,"s":"g2","x":252.3,"v":25},{"p":2,"s":"g2","x":252.33,"v":40},{"p":2,"s":"g2","x":252.35,"v":50},{"p":2,"s":"g2","x":252.37,"v":40},{"p":2,"s":"g2","x":252.4,"v":35},{"p":2,"s":"g2","x":252.45,"v":55},{"p":2,"s":"g2","x":252.5,"v":79},{"p":2,"s":"g2","x":252.52,"v":78},{"p":2,"s":"g2","x":252.55,"v":79},{"p":2,"s":"g2","x":252.57,"v":65},{"p":2,"s":"g2","x":252.6,"v":40},{"p":2,"s":"g2","x":252.62,"v":30},{"p":2,"s":"g2","x":252.64,"v":65},{"p":2,"s":"g2","x":252.67,"v":55},{"p":2,"s":"g2","x":252.7,"v":20},{"p":2,"s":"g2","x":252.73,"v":5},{"p":2,"s":"g2","x":252.76,"v":10},{"p":2,"s":"g2","x":252.8,"v":25},{"p":2,"s":"g2","x":252.83,"v":15},{"p":2,"s":"g2","x":252.86,"v":20},{"p":2,"s":"g2","x":252.9,"v":10},{"p":2,"s":"g2","x":252.93,"v":0},{"p":2,"s":"g2","x":252.96,"v":-3},{"p":2,"s":"g2","x":253.0,"v":5},{"p":2,"s":"g2","x":253.03,"v":10},{"p":2,"s":"g2","x":253.06,"v":14},{"p":2,"s":"g2","x":253.1,"v":20},{"p":2,"s":"g2","x":253.13,"v":16},{"p":2,"s":"g2","x":253.16,"v":12},{"p":2,"s":"g2","x":253.2,"v":20},{"p":2,"s":"g2","x":253.25,"v":15},{"p":2,"s":"g2","x":253.3,"v":8},{"p":2,"s":"g2","x":253.35,"v":10},{"p":2,"s":"g2","x":253.4,"v":18},{"p":2,"s":"g2","x":253.45,"v":28},{"p":2,"s":"g2","x":253.5,"v":25},{"p":2,"s":"g2","x":253.53,"v":47},{"p":2,"s":"g2","x":253.56,"v":30},{"p":2,"s":"g2","x":253.6,"v":10},{"p":2,"s":"g2","x":253.63,"v":45},{"p":2,"s":"g2","x":253.66,"v":70},{"p":2,"s":"g2","x":253.68,"v":86},{"p":2,"s":"g2","x":253.7,"v":80},{"p":2,"s":"g2","x":253.73,"v":95},{"p":2,"s":"g2","x":253.76,"v":50},{"p":2,"s":"g2","x":253.8,"v":20},{"p":2,"s":"g2","x":253.85,"v":-10},{"p":2,"s":"g2","x":253.9,"v":-29},{"p":2,"s":"g2","x":253.95,"v":-27},{"p":2,"s":"g2","x":254.0,"v":-33},{"p":2,"s":"g2","x":254.03,"v":-30},{"p":2,"s":"g2","x":254.06,"v":-25},{"p":2,"s":"g2","x":254.1,"v":10},{"p":2,"s":"g2","x":254.13,"v":0},{"p":2,"s":"g2","x":254.17,"v":-10},{"p":2,"s":"g2","x":254.2,"v":20},{"p":2,"s":"g2","x":254.23,"v":60},{"p":2,"s":"g2","x":254.25,"v":70},{"p":2,"s":"g2","x":254.28,"v":68},{"p":2,"s":"g2","x":254.31,"v":55},{"p":2,"s":"g2","x":254.34,"v":62},{"p":2,"s":"g2","x":254.37,"v":52},{"p":2,"s":"g2","x":254.4,"v":58},{"p":2,"s":"g2","x":254.43,"v":50},{"p":2,"s":"g2","x":254.47,"v":30},{"p":2,"s":"g2","x":254.5,"v":25},{"p":2,"s":"g2","x":254.53,"v":15},{"p":2,"s":"g2","x":254.57,"v":-10},{"p":2,"s":"g2","x":254.6,"v":-25},{"p":2,"s":"g2","x":254.63,"v":-15},{"p":2,"s":"g2","x":254.67,"v":-20},{"p":2,"s":"g2","x":254.7,"v":-10},{"p":2,"s":"g2","x":254.74,"v":-30},{"p":2,"s":"g2","x":254.78,"v":-37},{"p":2,"s":"g2","x":254.82,"v":-15},{"p":2,"s":"g2","x":254.87,"v":-23},{"p":2,"s":"g2","x":254.92,"v":-22},{"p":2,"s":"g2","x":254.95,"v":-26},{"p":2,"s":"g2","x":255.0,"v":-20},{"p":2,"s":"g2","x":255.06,"v":-12},{"p":2,"s":"g2","x":255.12,"v":-2},{"p":2,"s":"g2","x":255.17,"v":-12},{"p":2,"s":"g2","x":255.23,"v":-24},{"p":2,"s":"g2","x":255.29,"v":-26.5},{"p":2,"s":"g2","x":255.36,"v":-27.5},{"p":2,"s":"g2","x":255.44,"v":-28},{"p":2,"s":"g2","x":255.5,"v":-29.5},{"p":2,"s":"g2","x":255.55,"v":-31},{"p":2,"s":"g2","x":255.61,"v":-29},{"p":2,"s":"g2","x":255.67,"v":-27},{"p":2,"s":"g2","x":255.73,"v":-21},{"p":2,"s":"g2","x":255.78,"v":-13.5},{"p":2,"s":"g2","x":255.82,"v":-15},{"p":2,"s":"g2","x":255.87,"v":-18},{"p":2,"s":"g2","x":255.91,"v":-15},{"p":2,"s":"g2","x":255.96,"v":-13},{"p":2,"s":"g2","x":256.01,"v":-12.5},{"p":2,"s":"g2","x":256.09,"v":-16.5},{"p":2,"s":"g2","x":256.16,"v":-21.5},{"p":2,"s":"g2","x":256.24,"v":-19},{"p":2,"s":"g2","x":256.31,"v":-18.5},{"p":2,"s":"g2","x":256.37,"v":-12},{"p":2,"s":"g2","x":256.43,"v":-13},{"p":2,"s":"g2","x":256.48,"v":-18},{"p":2,"s":"g2","x":256.54,"v":-24},{"p":2,"s":"g2","x":256.6,"v":-28},{"p":2,"s":"g2","x":256.67,"v":-26},{"p":2,"s":"g2","x":256.75,"v":-23},{"p":2,"s":"g2","x":256.85,"v":-22},{"p":2,"s":"g2","x":256.92,"v":-23},{"p":2,"s":"g2","x":256.96,"v":-23.4},{"p":2,"s":"g2","x":257.03,"v":-16.5},{"p":2,"s":"g2","x":257.11,"v":-8},{"p":2,"s":"g2","x":257.17,"v":-5},{"p":2,"s":"g2","x":257.22,"v":-7},{"p":2,"s":"g2","x":257.3,"v":-12},{"p":2,"s":"g2","x":257.38,"v":-15.7},{"p":2,"s":"g2","x":257.41,"v":-15},{"p":2,"s":"g2","x":257.47,"v":-10.5},{"p":2,"s":"g2","x":257.53,"v":-8.5},{"p":2,"s":"g2","x":257.59,"v":-6},{"p":2,"s":"g2","x":257.64,"v":-2.5},{"p":2,"s":"g2","x":257.7,"v":0},{"p":2,"s":"g2","x":257.76,"v":0.5},{"p":2,"s":"g2","x":257.81,"v":0},{"p":2,"s":"g2","x":257.87,"v":-1},{"p":2,"s":"g2","x":257.91,"v":-3},{"p":2,"s":"g2","x":257.95,"v":-2.8},
{"p":2,"s":"g3","x":252.01,"v":-15},{"p":2,"s":"g3","x":252.06,"v":-22},{"p":2,"s":"g3","x":252.1,"v":-28},{"p":2,"s":"g3","x":252.14,"v":-23},{"p":2,"s":"g3","x":252.17,"v":-20},{"p":2,"s":"g3","x":252.23,"v":-15},{"p":2,"s":"g3","x":252.27,"v":10},{"p":2,"s":"g3","x":252.3,"v":30},{"p":2,"s":"g3","x":252.35,"v":50},{"p":2,"s":"g3","x":252.37,"v":45},{"p":2,"s":"g3","x":252.4,"v":10},{"p":2,"s":"g3","x":252.43,"v":40},{"p":2,"s":"g3","x":252.47,"v":60},{"p":2,"s":"g3","x":252.5,"v":77},{"p":2,"s":"g3","x":252.53,"v":75},{"p":2,"s":"g3","x":252.55,"v":76},{"p":2,"s":"g3","x":252.58,"v":50},{"p":2,"s":"g3","x":252.6,"v":20},{"p":2,"s":"g3","x":252.62,"v":40},{"p":2,"s":"g3","x":252.64,"v":72},{"p":2,"s":"g3","x":252.66,"v":68},{"p":2,"s":"g3","x":252.68,"v":30},{"p":2,"s":"g3","x":252.7,"v":5},{"p":2,"s":"g3","x":252.72,"v":20},{"p":2,"s":"g3","x":252.74,"v":48},{"p":2,"s":"g3","x":252.76,"v":15},{"p":2,"s":"g3","x":252.78,"v":40},{"p":2,"s":"g3","x":252.8,"v":10},{"p":2,"s":"g3","x":252.82,"v":35},{"p":2,"s":"g3","x":252.84,"v":20},{"p":2,"s":"g3","x":252.86,"v":30},{"p":2,"s":"g3","x":252.88,"v":10},{"p":2,"s":"g3","x":252.9,"v":25},{"p":2,"s":"g3","x":252.92,"v":5},{"p":2,"s":"g3","x":252.95,"v":15},{"p":2,"s":"g3","x":252.97,"v":5},{"p":2,"s":"g3","x":253.0,"v":15},{"p":2,"s":"g3","x":253.03,"v":25},{"p":2,"s":"g3","x":253.05,"v":15},{"p":2,"s":"g3","x":253.08,"v":30},{"p":2,"s":"g3","x":253.1,"v":20},{"p":2,"s":"g3","x":253.13,"v":25},{"p":2,"s":"g3","x":253.16,"v":10},{"p":2,"s":"g3","x":253.2,"v":22},{"p":2,"s":"g3","x":253.25,"v":15},{"p":2,"s":"g3","x":253.3,"v":10},{"p":2,"s":"g3","x":253.35,"v":15},{"p":2,"s":"g3","x":253.38,"v":25},{"p":2,"s":"g3","x":253.42,"v":10},{"p":2,"s":"g3","x":253.45,"v":30},{"p":2,"s":"g3","x":253.48,"v":20},{"p":2,"s":"g3","x":253.5,"v":32},{"p":2,"s":"g3","x":253.53,"v":25},{"p":2,"s":"g3","x":253.56,"v":8},{"p":2,"s":"g3","x":253.6,"v":40},{"p":2,"s":"g3","x":253.63,"v":60},{"p":2,"s":"g3","x":253.66,"v":80},{"p":2,"s":"g3","x":253.68,"v":88},{"p":2,"s":"g3","x":253.7,"v":60},{"p":2,"s":"g3","x":253.73,"v":101},{"p":2,"s":"g3","x":253.75,"v":70},{"p":2,"s":"g3","x":253.78,"v":35},{"p":2,"s":"g3","x":253.82,"v":5},{"p":2,"s":"g3","x":253.86,"v":-15},{"p":2,"s":"g3","x":253.9,"v":-25},{"p":2,"s":"g3","x":253.95,"v":-20},{"p":2,"s":"g3","x":254.0,"v":-28},{"p":2,"s":"g3","x":254.03,"v":-22},{"p":2,"s":"g3","x":254.06,"v":-18},{"p":2,"s":"g3","x":254.1,"v":15},{"p":2,"s":"g3","x":254.13,"v":-5},{"p":2,"s":"g3","x":254.17,"v":-15},{"p":2,"s":"g3","x":254.2,"v":25},{"p":2,"s":"g3","x":254.23,"v":55},{"p":2,"s":"g3","x":254.25,"v":68},{"p":2,"s":"g3","x":254.28,"v":50},{"p":2,"s":"g3","x":254.31,"v":60},{"p":2,"s":"g3","x":254.34,"v":40},{"p":2,"s":"g3","x":254.37,"v":48},{"p":2,"s":"g3","x":254.4,"v":55},{"p":2,"s":"g3","x":254.43,"v":35},{"p":2,"s":"g3","x":254.46,"v":45},{"p":2,"s":"g3","x":254.5,"v":35},{"p":2,"s":"g3","x":254.52,"v":45},{"p":2,"s":"g3","x":254.55,"v":10},{"p":2,"s":"g3","x":254.58,"v":-15},{"p":2,"s":"g3","x":254.62,"v":-5},{"p":2,"s":"g3","x":254.66,"v":-20},{"p":2,"s":"g3","x":254.7,"v":-10},{"p":2,"s":"g3","x":254.74,"v":-25},{"p":2,"s":"g3","x":254.78,"v":-36},{"p":2,"s":"g3","x":254.82,"v":-10},{"p":2,"s":"g3","x":254.86,"v":-18},{"p":2,"s":"g3","x":254.9,"v":-15},{"p":2,"s":"g3","x":254.95,"v":-10},{"p":2,"s":"g3","x":255.0,"v":-12},{"p":2,"s":"g3","x":255.06,"v":-6},{"p":2,"s":"g3","x":255.12,"v":1},{"p":2,"s":"g3","x":255.17,"v":-10},{"p":2,"s":"g3","x":255.23,"v":-22},{"p":2,"s":"g3","x":255.29,"v":-25},{"p":2,"s":"g3","x":255.36,"v":-25.5},{"p":2,"s":"g3","x":255.44,"v":-26},{"p":2,"s":"g3","x":255.5,"v":-27},{"p":2,"s":"g3","x":255.55,"v":-28.5},{"p":2,"s":"g3","x":255.61,"v":-27.5},{"p":2,"s":"g3","x":255.67,"v":-25.5},{"p":2,"s":"g3","x":255.73,"v":-19},{"p":2,"s":"g3","x":255.78,"v":-12},{"p":2,"s":"g3","x":255.82,"v":-10.5},{"p":2,"s":"g3","x":255.87,"v":-17},{"p":2,"s":"g3","x":255.91,"v":-15},{"p":2,"s":"g3","x":255.96,"v":-12.5},{"p":2,"s":"g3","x":256.01,"v":-11.5},{"p":2,"s":"g3","x":256.09,"v":-15},{"p":2,"s":"g3","x":256.16,"v":-19.5},{"p":2,"s":"g3","x":256.24,"v":-17.5},{"p":2,"s":"g3","x":256.31,"v":-17},{"p":2,"s":"g3","x":256.37,"v":-10},{"p":2,"s":"g3","x":256.43,"v":-12},{"p":2,"s":"g3","x":256.48,"v":-17},{"p":2,"s":"g3","x":256.54,"v":-22},{"p":2,"s":"g3","x":256.6,"v":-26.5},{"p":2,"s":"g3","x":256.67,"v":-24},{"p":2,"s":"g3","x":256.75,"v":-21.5},{"p":2,"s":"g3","x":256.85,"v":-20.5},{"p":2,"s":"g3","x":256.92,"v":-21.5},{"p":2,"s":"g3","x":256.96,"v":-22},{"p":2,"s":"g3","x":257.03,"v":-15},{"p":2,"s":"g3","x":257.11,"v":-7},{"p":2,"s":"g3","x":257.17,"v":-4.2},{"p":2,"s":"g3","x":257.22,"v":-6.2},{"p":2,"s":"g3","x":257.3,"v":-10},{"p":2,"s":"g3","x":257.38,"v":-13.5},{"p":2,"s":"g3","x":257.41,"v":-12.5},{"p":2,"s":"g3","x":257.47,"v":-8},{"p":2,"s":"g3","x":257.53,"v":-6.5},{"p":2,"s":"g3","x":257.59,"v":-4.5},{"p":2,"s":"g3","x":257.64,"v":-1},{"p":2,"s":"g3","x":257.7,"v":1.5},{"p":2,"s":"g3","x":257.76,"v":1.5},{"p":2,"s":"g3","x":257.81,"v":0.8},{"p":2,"s":"g3","x":257.87,"v":0},{"p":2,"s":"g3","x":257.91,"v":-2},{"p":2,"s":"g3","x":257.95,"v":-1.8},
{"p":2,"s":"e","x":252.0,"v":-20},{"p":2,"s":"e","x":252.05,"v":-28},{"p":2,"s":"e","x":252.1,"v":-31},{"p":2,"s":"e","x":252.15,"v":-28},{"p":2,"s":"e","x":252.2,"v":-15},{"p":2,"s":"e","x":252.25,"v":5},{"p":2,"s":"e","x":252.3,"v":25},{"p":2,"s":"e","x":252.35,"v":35},{"p":2,"s":"e","x":252.4,"v":38},{"p":2,"s":"e","x":252.45,"v":45},{"p":2,"s":"e","x":252.5,"v":52},{"p":2,"s":"e","x":252.55,"v":57},{"p":2,"s":"e","x":252.6,"v":45},{"p":2,"s":"e","x":252.65,"v":25},{"p":2,"s":"e","x":252.7,"v":12},{"p":2,"s":"e","x":252.75,"v":18},{"p":2,"s":"e","x":252.8,"v":22},{"p":2,"s":"e","x":252.85,"v":18},{"p":2,"s":"e","x":252.9,"v":12},{"p":2,"s":"e","x":252.95,"v":5},{"p":2,"s":"e","x":253.0,"v":3},{"p":2,"s":"e","x":253.05,"v":10},{"p":2,"s":"e","x":253.1,"v":17},{"p":2,"s":"e","x":253.15,"v":22},{"p":2,"s":"e","x":253.2,"v":25},{"p":2,"s":"e","x":253.25,"v":22},{"p":2,"s":"e","x":253.3,"v":15},{"p":2,"s":"e","x":253.35,"v":9},{"p":2,"s":"e","x":253.4,"v":12},{"p":2,"s":"e","x":253.45,"v":22},{"p":2,"s":"e","x":253.5,"v":38},{"p":2,"s":"e","x":253.55,"v":45},{"p":2,"s":"e","x":253.6,"v":52},{"p":2,"s":"e","x":253.65,"v":65},{"p":2,"s":"e","x":253.7,"v":78},{"p":2,"s":"e","x":253.72,"v":80},{"p":2,"s":"e","x":253.75,"v":75},{"p":2,"s":"e","x":253.8,"v":40},{"p":2,"s":"e","x":253.85,"v":5},{"p":2,"s":"e","x":253.9,"v":-20},{"p":2,"s":"e","x":253.95,"v":-15},{"p":2,"s":"e","x":254.0,"v":5},{"p":2,"s":"e","x":254.05,"v":8},{"p":2,"s":"e","x":254.1,"v":0},{"p":2,"s":"e","x":254.15,"v":-20},{"p":2,"s":"e","x":254.2,"v":-10},{"p":2,"s":"e","x":254.25,"v":40},{"p":2,"s":"e","x":254.3,"v":65},{"p":2,"s":"e","x":254.33,"v":70},{"p":2,"s":"e","x":254.37,"v":68},{"p":2,"s":"e","x":254.42,"v":50},{"p":2,"s":"e","x":254.47,"v":30},{"p":2,"s":"e","x":254.52,"v":10},{"p":2,"s":"e","x":254.57,"v":-10},{"p":2,"s":"e","x":254.62,"v":-18},{"p":2,"s":"e","x":254.67,"v":-22},{"p":2,"s":"e","x":254.72,"v":-25},{"p":2,"s":"e","x":254.77,"v":-22},{"p":2,"s":"e","x":254.82,"v":-15},{"p":2,"s":"e","x":254.87,"v":-13},{"p":2,"s":"e","x":254.9,"v":-15},{"p":2,"s":"e","x":254.95,"v":-22},{"p":2,"s":"e","x":255.0,"v":-17},{"p":2,"s":"e","x":255.06,"v":-8},{"p":2,"s":"e","x":255.12,"v":-2},{"p":2,"s":"e","x":255.17,"v":-11},{"p":2,"s":"e","x":255.23,"v":-22},{"p":2,"s":"e","x":255.29,"v":-25},{"p":2,"s":"e","x":255.36,"v":-26.4},{"p":2,"s":"e","x":255.44,"v":-28},{"p":2,"s":"e","x":255.5,"v":-25.6},{"p":2,"s":"e","x":255.55,"v":-25.5},{"p":2,"s":"e","x":255.61,"v":-26.5},{"p":2,"s":"e","x":255.67,"v":-25},{"p":2,"s":"e","x":255.73,"v":-18},{"p":2,"s":"e","x":255.78,"v":-10.4},{"p":2,"s":"e","x":255.82,"v":-10},{"p":2,"s":"e","x":255.87,"v":-14},{"p":2,"s":"e","x":255.91,"v":-14.5},{"p":2,"s":"e","x":255.96,"v":-13},{"p":2,"s":"e","x":256.01,"v":-12},{"p":2,"s":"e","x":256.09,"v":-16},{"p":2,"s":"e","x":256.16,"v":-18},{"p":2,"s":"e","x":256.24,"v":-17.5},{"p":2,"s":"e","x":256.31,"v":-17},{"p":2,"s":"e","x":256.37,"v":-11},{"p":2,"s":"e","x":256.43,"v":-11.5},{"p":2,"s":"e","x":256.48,"v":-16},{"p":2,"s":"e","x":256.54,"v":-23},{"p":2,"s":"e","x":256.6,"v":-28},{"p":2,"s":"e","x":256.67,"v":-25.5},{"p":2,"s":"e","x":256.75,"v":-22},{"p":2,"s":"e","x":256.85,"v":-19.5},{"p":2,"s":"e","x":256.92,"v":-20},{"p":2,"s":"e","x":256.96,"v":-22},{"p":2,"s":"e","x":257.03,"v":-15},{"p":2,"s":"e","x":257.11,"v":-7},{"p":2,"s":"e","x":257.17,"v":-5},{"p":2,"s":"e","x":257.22,"v":-6.5},{"p":2,"s":"e","x":257.3,"v":-10.5},{"p":2,"s":"e","x":257.38,"v":-13},{"p":2,"s":"e","x":257.41,"v":-13},{"p":2,"s":"e","x":257.47,"v":-9},{"p":2,"s":"e","x":257.53,"v":-7},{"p":2,"s":"e","x":257.59,"v":-4.5},{"p":2,"s":"e","x":257.64,"v":-0.5},{"p":2,"s":"e","x":257.7,"v":1.3},{"p":2,"s":"e","x":257.76,"v":1.5},{"p":2,"s":"e","x":257.81,"v":0.5},{"p":2,"s":"e","x":257.87,"v":-0.5},{"p":2,"s":"e","x":257.91,"v":-2.5},{"p":2,"s":"e","x":257.95,"v":-2.5},
{"p":2,"s":"d1","x":252.0,"v":5},{"p":2,"s":"d1","x":252.05,"v":3},{"p":2,"s":"d1","x":252.1,"v":8},{"p":2,"s":"d1","x":252.15,"v":3},{"p":2,"s":"d1","x":252.2,"v":2},{"p":2,"s":"d1","x":252.25,"v":-9},{"p":2,"s":"d1","x":252.3,"v":8},{"p":2,"s":"d1","x":252.33,"v":25},{"p":2,"s":"d1","x":252.36,"v":30},{"p":2,"s":"d1","x":252.4,"v":10},{"p":2,"s":"d1","x":252.45,"v":-15},{"p":2,"s":"d1","x":252.5,"v":10},{"p":2,"s":"d1","x":252.55,"v":31},{"p":2,"s":"d1","x":252.6,"v":15},{"p":2,"s":"d1","x":252.62,"v":-25},{"p":2,"s":"d1","x":252.66,"v":-5},{"p":2,"s":"d1","x":252.7,"v":10},{"p":2,"s":"d1","x":252.75,"v":-5},{"p":2,"s":"d1","x":252.8,"v":-19},{"p":2,"s":"d1","x":252.85,"v":-5},{"p":2,"s":"d1","x":252.9,"v":5},{"p":2,"s":"d1","x":252.95,"v":-10},{"p":2,"s":"d1","x":253.0,"v":-16},{"p":2,"s":"d1","x":253.05,"v":10},{"p":2,"s":"d1","x":253.1,"v":0},{"p":2,"s":"d1","x":253.15,"v":-5},{"p":2,"s":"d1","x":253.2,"v":-8},{"p":2,"s":"d1","x":253.25,"v":0},{"p":2,"s":"d1","x":253.3,"v":-10},{"p":2,"s":"d1","x":253.35,"v":-5},{"p":2,"s":"d1","x":253.4,"v":5},{"p":2,"s":"d1","x":253.45,"v":-10},{"p":2,"s":"d1","x":253.5,"v":15},{"p":2,"s":"d1","x":253.55,"v":-5},{"p":2,"s":"d1","x":253.6,"v":-20},{"p":2,"s":"d1","x":253.65,"v":0},{"p":2,"s":"d1","x":253.7,"v":25},{"p":2,"s":"d1","x":253.72,"v":48},{"p":2,"s":"d1","x":253.75,"v":10},{"p":2,"s":"d1","x":253.8,"v":-10},{"p":2,"s":"d1","x":253.85,"v":15},{"p":2,"s":"d1","x":253.9,"v":0},{"p":2,"s":"d1","x":253.95,"v":-15},{"p":2,"s":"d1","x":254.0,"v":-20},{"p":2,"s":"d1","x":254.05,"v":5},{"p":2,"s":"d1","x":254.1,"v":25},{"p":2,"s":"d1","x":254.13,"v":-5},{"p":2,"s":"d1","x":254.18,"v":10},{"p":2,"s":"d1","x":254.22,"v":0},{"p":2,"s":"d1","x":254.28,"v":-40},{"p":2,"s":"d1","x":254.32,"v":5},{"p":2,"s":"d1","x":254.37,"v":30},{"p":2,"s":"d1","x":254.42,"v":15},{"p":2,"s":"d1","x":254.47,"v":25},{"p":2,"s":"d1","x":254.52,"v":10},{"p":2,"s":"d1","x":254.6,"v":-5},{"p":2,"s":"d1","x":254.65,"v":-20},{"p":2,"s":"d1","x":254.7,"v":15},{"p":2,"s":"d1","x":254.75,"v":-5},{"p":2,"s":"d1","x":254.8,"v":0},{"p":2,"s":"d1","x":254.85,"v":5},{"p":2,"s":"d1","x":254.9,"v":2},{"p":2,"s":"d1","x":255.0,"v":7},{"p":2,"s":"d1","x":255.05,"v":4},{"p":2,"s":"d1","x":255.1,"v":2},{"p":2,"s":"d1","x":255.16,"v":4},{"p":2,"s":"d1","x":255.21,"v":3},{"p":2,"s":"d1","x":255.29,"v":0},{"p":2,"s":"d1","x":255.36,"v":-1.5},{"p":2,"s":"d1","x":255.44,"v":1},{"p":2,"s":"d1","x":255.5,"v":0},{"p":2,"s":"d1","x":255.55,"v":-2},{"p":2,"s":"d1","x":255.63,"v":0},{"p":2,"s":"d1","x":255.71,"v":1.8},{"p":2,"s":"d1","x":255.78,"v":-1},{"p":2,"s":"d1","x":255.84,"v":-4.3},{"p":2,"s":"d1","x":255.88,"v":-8},{"p":2,"s":"d1","x":255.92,"v":0},{"p":2,"s":"d1","x":255.97,"v":1.8},{"p":2,"s":"d1","x":256.05,"v":-1},{"p":2,"s":"d1","x":256.09,"v":-3},{"p":2,"s":"d1","x":256.16,"v":1},{"p":2,"s":"d1","x":256.24,"v":-0.5},{"p":2,"s":"d1","x":256.31,"v":1},{"p":2,"s":"d1","x":256.35,"v":3},{"p":2,"s":"d1","x":256.43,"v":-1.5},{"p":2,"s":"d1","x":256.48,"v":-2},{"p":2,"s":"d1","x":256.56,"v":2},{"p":2,"s":"d1","x":256.63,"v":-1},{"p":2,"s":"d1","x":256.73,"v":0},{"p":2,"s":"d1","x":256.81,"v":-1},{"p":2,"s":"d1","x":256.88,"v":-1.5},{"p":2,"s":"d1","x":256.94,"v":0.5},{"p":2,"s":"d1","x":257.0,"v":1},{"p":2,"s":"d1","x":257.07,"v":-0.5},{"p":2,"s":"d1","x":257.15,"v":0.5},{"p":2,"s":"d1","x":257.22,"v":1},{"p":2,"s":"d1","x":257.3,"v":-0.5},{"p":2,"s":"d1","x":257.38,"v":-2.5},{"p":2,"s":"d1","x":257.47,"v":3.5},{"p":2,"s":"d1","x":257.53,"v":0},{"p":2,"s":"d1","x":257.6,"v":0.5},{"p":2,"s":"d1","x":257.68,"v":2.5},{"p":2,"s":"d1","x":257.76,"v":1},{"p":2,"s":"d1","x":257.83,"v":0.5},{"p":2,"s":"d1","x":257.91,"v":-0.5},{"p":2,"s":"d1","x":257.98,"v":-1},
{"p":2,"s":"d2","x":252.0,"v":3},{"p":2,"s":"d2","x":252.05,"v":1},{"p":2,"s":"d2","x":252.1,"v":4},{"p":2,"s":"d2","x":252.15,"v":0},{"p":2,"s":"d2","x":252.2,"v":-3},{"p":2,"s":"d2","x":252.25,"v":0},{"p":2,"s":"d2","x":252.3,"v":10},{"p":2,"s":"d2","x":252.35,"v":20},{"p":2,"s":"d2","x":252.4,"v":0},{"p":2,"s":"d2","x":252.45,"v":15},{"p":2,"s":"d2","x":252.5,"v":28},{"p":2,"s":"d2","x":252.55,"v":20},{"p":2,"s":"d2","x":252.6,"v":5},{"p":2,"s":"d2","x":252.65,"v":15},{"p":2,"s":"d2","x":252.7,"v":10},{"p":2,"s":"d2","x":252.75,"v":0},{"p":2,"s":"d2","x":252.8,"v":10},{"p":2,"s":"d2","x":252.85,"v":5},{"p":2,"s":"d2","x":252.9,"v":-5},{"p":2,"s":"d2","x":252.95,"v":5},{"p":2,"s":"d2","x":253.0,"v":0},{"p":2,"s":"d2","x":253.05,"v":5},{"p":2,"s":"d2","x":253.1,"v":-5},{"p":2,"s":"d2","x":253.15,"v":5},{"p":2,"s":"d2","x":253.2,"v":-10},{"p":2,"s":"d2","x":253.25,"v":-15},{"p":2,"s":"d2","x":253.3,"v":0},{"p":2,"s":"d2","x":253.35,"v":10},{"p":2,"s":"d2","x":253.4,"v":5},{"p":2,"s":"d2","x":253.45,"v":15},{"p":2,"s":"d2","x":253.5,"v":0},{"p":2,"s":"d2","x":253.55,"v":-10},{"p":2,"s":"d2","x":253.6,"v":-20},{"p":2,"s":"d2","x":253.65,"v":5},{"p":2,"s":"d2","x":253.7,"v":15},{"p":2,"s":"d2","x":253.75,"v":5},{"p":2,"s":"d2","x":253.8,"v":10},{"p":2,"s":"d2","x":253.85,"v":-5},{"p":2,"s":"d2","x":253.9,"v":-15},{"p":2,"s":"d2","x":253.95,"v":-25},{"p":2,"s":"d2","x":254.0,"v":-30},{"p":2,"s":"d2","x":254.02,"v":-48},{"p":2,"s":"d2","x":254.05,"v":-20},{"p":2,"s":"d2","x":254.1,"v":-10},{"p":2,"s":"d2","x":254.15,"v":-35},{"p":2,"s":"d2","x":254.2,"v":5},{"p":2,"s":"d2","x":254.25,"v":10},{"p":2,"s":"d2","x":254.3,"v":15},{"p":2,"s":"d2","x":254.35,"v":5},{"p":2,"s":"d2","x":254.4,"v":10},{"p":2,"s":"d2","x":254.45,"v":20},{"p":2,"s":"d2","x":254.5,"v":10},{"p":2,"s":"d2","x":254.55,"v":5},{"p":2,"s":"d2","x":254.6,"v":0},{"p":2,"s":"d2","x":254.65,"v":-10},{"p":2,"s":"d2","x":254.7,"v":5},{"p":2,"s":"d2","x":254.75,"v":10},{"p":2,"s":"d2","x":254.8,"v":15},{"p":2,"s":"d2","x":254.85,"v":5},{"p":2,"s":"d2","x":254.9,"v":0},{"p":2,"s":"d2","x":255.0,"v":2},{"p":2,"s":"d2","x":255.05,"v":1},{"p":2,"s":"d2","x":255.1,"v":0},{"p":2,"s":"d2","x":255.16,"v":3},{"p":2,"s":"d2","x":255.21,"v":2},{"p":2,"s":"d2","x":255.29,"v":-1},{"p":2,"s":"d2","x":255.36,"v":-2},{"p":2,"s":"d2","x":255.44,"v":0},{"p":2,"s":"d2","x":255.5,"v":-1},{"p":2,"s":"d2","x":255.55,"v":-5},{"p":2,"s":"d2","x":255.63,"v":-0.5},{"p":2,"s":"d2","x":255.71,"v":1.5},{"p":2,"s":"d2","x":255.78,"v":-0.5},{"p":2,"s":"d2","x":255.84,"v":-2},{"p":2,"s":"d2","x":255.88,"v":-2.5},{"p":2,"s":"d2","x":255.92,"v":0},{"p":2,"s":"d2","x":255.97,"v":1},{"p":2,"s":"d2","x":256.05,"v":-1},{"p":2,"s":"d2","x":256.09,"v":-2},{"p":2,"s":"d2","x":256.16,"v":0},{"p":2,"s":"d2","x":256.24,"v":-1},{"p":2,"s":"d2","x":256.31,"v":0.5},{"p":2,"s":"d2","x":256.35,"v":1.5},{"p":2,"s":"d2","x":256.43,"v":-2},{"p":2,"s":"d2","x":256.48,"v":-2.5},{"p":2,"s":"d2","x":256.56,"v":1.5},{"p":2,"s":"d2","x":256.63,"v":-1},{"p":2,"s":"d2","x":256.73,"v":-0.5},{"p":2,"s":"d2","x":256.81,"v":-1},{"p":2,"s":"d2","x":256.88,"v":-1.5},{"p":2,"s":"d2","x":256.94,"v":-0.5},{"p":2,"s":"d2","x":257.0,"v":0.5},{"p":2,"s":"d2","x":257.07,"v":-1},{"p":2,"s":"d2","x":257.15,"v":0},{"p":2,"s":"d2","x":257.22,"v":0.5},{"p":2,"s":"d2","x":257.3,"v":-1},{"p":2,"s":"d2","x":257.38,"v":-2.7},{"p":2,"s":"d2","x":257.47,"v":2.5},{"p":2,"s":"d2","x":257.53,"v":-0.5},{"p":2,"s":"d2","x":257.6,"v":0},{"p":2,"s":"d2","x":257.68,"v":2},{"p":2,"s":"d2","x":257.76,"v":1},{"p":2,"s":"d2","x":257.83,"v":0},{"p":2,"s":"d2","x":257.91,"v":-1},{"p":2,"s":"d2","x":257.98,"v":-1.5},
{"p":2,"s":"d3","x":252.0,"v":12},{"p":2,"s":"d3","x":252.05,"v":5},{"p":2,"s":"d3","x":252.1,"v":12},{"p":2,"s":"d3","x":252.15,"v":5},{"p":2,"s":"d3","x":252.2,"v":0},{"p":2,"s":"d3","x":252.25,"v":-12},{"p":2,"s":"d3","x":252.3,"v":10},{"p":2,"s":"d3","x":252.35,"v":25},{"p":2,"s":"d3","x":252.38,"v":-20},{"p":2,"s":"d3","x":252.42,"v":-51},{"p":2,"s":"d3","x":252.45,"v":15},{"p":2,"s":"d3","x":252.5,"v":30},{"p":2,"s":"d3","x":252.55,"v":20},{"p":2,"s":"d3","x":252.58,"v":-20},{"p":2,"s":"d3","x":252.62,"v":20},{"p":2,"s":"d3","x":252.65,"v":-5},{"p":2,"s":"d3","x":252.7,"v":25},{"p":2,"s":"d3","x":252.72,"v":-10},{"p":2,"s":"d3","x":252.75,"v":20},{"p":2,"s":"d3","x":252.78,"v":0},{"p":2,"s":"d3","x":252.82,"v":25},{"p":2,"s":"d3","x":252.85,"v":-5},{"p":2,"s":"d3","x":252.9,"v":15},{"p":2,"s":"d3","x":252.95,"v":0},{"p":2,"s":"d3","x":253.0,"v":10},{"p":2,"s":"d3","x":253.05,"v":-5},{"p":2,"s":"d3","x":253.1,"v":5},{"p":2,"s":"d3","x":253.15,"v":-10},{"p":2,"s":"d3","x":253.2,"v":5},{"p":2,"s":"d3","x":253.25,"v":-15},{"p":2,"s":"d3","x":253.3,"v":0},{"p":2,"s":"d3","x":253.35,"v":5},{"p":2,"s":"d3","x":253.4,"v":-10},{"p":2,"s":"d3","x":253.45,"v":10},{"p":2,"s":"d3","x":253.5,"v":-32},{"p":2,"s":"d3","x":253.55,"v":10},{"p":2,"s":"d3","x":253.6,"v":-25},{"p":2,"s":"d3","x":253.65,"v":5},{"p":2,"s":"d3","x":253.68,"v":30},{"p":2,"s":"d3","x":253.72,"v":20},{"p":2,"s":"d3","x":253.75,"v":-28},{"p":2,"s":"d3","x":253.8,"v":10},{"p":2,"s":"d3","x":253.85,"v":-5},{"p":2,"s":"d3","x":253.9,"v":10},{"p":2,"s":"d3","x":253.95,"v":-15},{"p":2,"s":"d3","x":254.0,"v":-5},{"p":2,"s":"d3","x":254.05,"v":0},{"p":2,"s":"d3","x":254.1,"v":-10},{"p":2,"s":"d3","x":254.15,"v":5},{"p":2,"s":"d3","x":254.2,"v":-5},{"p":2,"s":"d3","x":254.25,"v":10},{"p":2,"s":"d3","x":254.3,"v":-10},{"p":2,"s":"d3","x":254.35,"v":20},{"p":2,"s":"d3","x":254.4,"v":25},{"p":2,"s":"d3","x":254.45,"v":5},{"p":2,"s":"d3","x":254.5,"v":20},{"p":2,"s":"d3","x":254.55,"v":25},{"p":2,"s":"d3","x":254.6,"v":0},{"p":2,"s":"d3","x":254.65,"v":-15},{"p":2,"s":"d3","x":254.7,"v":-5},{"p":2,"s":"d3","x":254.75,"v":18},{"p":2,"s":"d3","x":254.8,"v":5},{"p":2,"s":"d3","x":254.85,"v":10},{"p":2,"s":"d3","x":254.9,"v":15},{"p":2,"s":"d3","x":254.95,"v":8},{"p":2,"s":"d3","x":255.0,"v":13},{"p":2,"s":"d3","x":255.05,"v":6},{"p":2,"s":"d3","x":255.1,"v":3.4},{"p":2,"s":"d3","x":255.16,"v":5},{"p":2,"s":"d3","x":255.21,"v":4},{"p":2,"s":"d3","x":255.29,"v":0},{"p":2,"s":"d3","x":255.36,"v":-2},{"p":2,"s":"d3","x":255.44,"v":1.5},{"p":2,"s":"d3","x":255.5,"v":0},{"p":2,"s":"d3","x":255.55,"v":-2},{"p":2,"s":"d3","x":255.63,"v":0.5},{"p":2,"s":"d3","x":255.71,"v":2.5},{"p":2,"s":"d3","x":255.78,"v":-0.5},{"p":2,"s":"d3","x":255.84,"v":-2},{"p":2,"s":"d3","x":255.88,"v":-1},{"p":2,"s":"d3","x":255.92,"v":1},{"p":2,"s":"d3","x":255.97,"v":2.5},{"p":2,"s":"d3","x":256.05,"v":-0.5},{"p":2,"s":"d3","x":256.09,"v":-3},{"p":2,"s":"d3","x":256.16,"v":1.5},{"p":2,"s":"d3","x":256.24,"v":0},{"p":2,"s":"d3","x":256.31,"v":1.5},{"p":2,"s":"d3","x":256.35,"v":5.6},{"p":2,"s":"d3","x":256.43,"v":-1},{"p":2,"s":"d3","x":256.48,"v":-3.5},{"p":2,"s":"d3","x":256.56,"v":2.6},{"p":2,"s":"d3","x":256.63,"v":-0.5},{"p":2,"s":"d3","x":256.73,"v":0.5},{"p":2,"s":"d3","x":256.81,"v":-0.5},{"p":2,"s":"d3","x":256.88,"v":-1},{"p":2,"s":"d3","x":256.94,"v":1},{"p":2,"s":"d3","x":257.0,"v":1.5},{"p":2,"s":"d3","x":257.07,"v":0},{"p":2,"s":"d3","x":257.15,"v":1},{"p":2,"s":"d3","x":257.22,"v":1.5},{"p":2,"s":"d3","x":257.3,"v":0},{"p":2,"s":"d3","x":257.38,"v":-2},{"p":2,"s":"d3","x":257.47,"v":4},{"p":2,"s":"d3","x":257.53,"v":0.5},{"p":2,"s":"d3","x":257.6,"v":1},{"p":2,"s":"d3","x":257.68,"v":3},{"p":2,"s":"d3","x":257.76,"v":1.5},{"p":2,"s":"d3","x":257.83,"v":1},{"p":2,"s":"d3","x":257.91,"v":0},{"p":2,"s":"d3","x":257.98,"v":-0.5}
    ]
  },
  "data": {"name": "d"},
  "spacing": 56,
  "resolve": {"scale": {"color": "independent", "strokeDash": "independent", "strokeWidth": "independent"}},
  "hconcat": [
    {
      "width": 525, "height": 441,
      "title": {"text": "(a)\u00a0\u00a0\u00a0\u00a0\u00a0\u00a0\u00a0\u00a0\u00a0\u00a0\u00a0\u00a0Profile 1"},
      "transform": [{"filter": "datum.p == 1"}],
      "layer": [
        {
          "mark": {"type": "line", "clip": true, "strokeJoin": "round"},
          "encoding": {
            "x": {"field": "x", "type": "quantitative", "scale": {"domain": [37, 40], "nice": false, "zero": false}, "axis": {"values": [37, 37.5, 38, 38.5, 39, 39.5, 40], "format": "~g", "title": "Longitude of profile 1", "grid": true}},
            "y": {"field": "v", "type": "quantitative", "scale": {"domain": [-100, 150], "nice": false, "zero": false}, "axis": {"values": [-100, -50, 0, 50, 100, 150], "title": "\u03b4 g (mGal)", "grid": true, "titleX": -31, "titleY": 220}},
            "color": {"field": "s", "type": "nominal", "scale": {"domain": ["g1", "g2", "g3", "e", "d1", "d2", "d3"], "range": ["#0000ff", "#00ee00", "#ff0000", "#000000", "#0000ff", "#00ee00", "#ff0000"]},
              "legend": {"orient": "top-left", "offset": 9,
                "labelExpr": "datum.value == 'g1' ? 'Grid 1 (\u03b4 g - ref\u1d63\u2091\u2098\u2092\u1d65\u2091 +ref\u1d63\u2091\u209b\u209c\u2092\u1d63\u2091)' : datum.value == 'g2' ? 'Grid 2 (\u03b4 g - ref\u1d63\u2091\u2098\u2092\u1d65\u2091-rtm\u1d63\u2091\u2098\u2092\u1d65\u2091 +ref\u1d63\u2091\u209b\u209c\u2092\u1d63\u2091+rtm\u1d63\u2091\u209b\u209c\u2092\u1d63\u2091)' : datum.value == 'g3' ? 'Grid 3 (\u03b4 g - CB\u1d63\u2091\u2098\u2092\u1d65\u2091+CB\u1d63\u2091\u209b\u209c\u2092\u1d63\u2091)' : datum.value == 'e' ? 'EGM2008' : datum.value == 'd1' ? 'Grid1-EGM2008' : datum.value == 'd2' ? 'Grid2-EGM2008' : 'Grid3-EGM2008'"}},
            "strokeDash": {"field": "s", "type": "nominal", "scale": {"domain": ["g1", "g2", "g3", "e", "d1", "d2", "d3"], "range": [[1, 0], [1, 0], [1, 0], [1, 0], [4, 3], [4, 3], [4, 3]]}},
            "strokeWidth": {"field": "s", "type": "nominal", "scale": {"type": "ordinal", "domain": ["g1", "g2", "g3", "e", "d1", "d2", "d3"], "range": [2.5, 2.5, 1, 1, 1, 1, 1]}}
          }
        },
        {
          "mark": {"type": "point", "opacity": 0},
          "encoding": {
            "x": {"field": "x", "type": "quantitative"},
            "y": {"datum": 0.5, "type": "quantitative", "scale": {"domain": [0, 1], "nice": false}, "axis": {"orient": "right", "values": [0, 0.1, 0.2, 0.3, 0.4, 0.5, 0.6, 0.7, 0.8, 0.9, 1], "format": "~g", "title": "Differences(mGal)", "titleAngle": 270, "titleBaseline": "top", "labelColor": "#77ac30", "domainColor": "#77ac30", "tickColor": "#77ac30", "titleColor": "#77ac30", "grid": false}}
          }
        }
      ],
      "resolve": {"scale": {"y": "independent"}}
    },
    {
      "width": 527, "height": 440,
      "title": {"text": "(b)\u00a0\u00a0\u00a0\u00a0\u00a0\u00a0\u00a0\u00a0\u00a0\u00a0\u00a0\u00a0Profile 2"},
      "transform": [{"filter": "datum.p == 2"}],
      "layer": [
        {
          "mark": {"type": "line", "clip": true, "strokeJoin": "round"},
          "encoding": {
            "x": {"field": "x", "type": "quantitative", "scale": {"domain": [252, 258], "nice": false, "zero": false}, "axis": {"values": [252, 253, 254, 255, 256, 257, 258], "format": "d", "title": "Longitude of profile 2", "grid": true}},
            "y": {"field": "v", "type": "quantitative", "scale": {"domain": [-51.5, 150], "nice": false, "zero": false}, "axis": {"values": [-50, 0, 50, 100, 150], "title": "\u03b4 g (mGal)", "grid": true, "titleX": -33, "titleY": 220}},
            "color": {"field": "s", "type": "nominal", "scale": {"domain": ["g1", "g2", "g3", "e", "d1", "d2", "d3"], "range": ["#0000ff", "#00ee00", "#ff0000", "#000000", "#0000ff", "#00ee00", "#ff0000"]},
              "legend": {"orient": "top-right", "offset": 5,
                "labelExpr": "datum.value == 'g1' ? 'Grid 1 (\u03b4 g - ref\u1d63\u2091\u2098\u2092\u1d65\u2091 +ref\u1d63\u2091\u209b\u209c\u2092\u1d63\u2091)' : datum.value == 'g2' ? 'Grid 2 (\u03b4 g - ref\u1d63\u2091\u2098\u2092\u1d65\u2091-rtm\u1d63\u2091\u2098\u2092\u1d65\u2091 +ref\u1d63\u2091\u209b\u209c\u2092\u1d63\u2091+rtm\u1d63\u2091\u209b\u209c\u2092\u1d63\u2091)' : datum.value == 'g3' ? 'Grid 3 (\u03b4 g - CB\u1d63\u2091\u2098\u2092\u1d65\u2091+CB\u1d63\u2091\u209b\u209c\u2092\u1d63\u2091)' : datum.value == 'e' ? 'EGM2008' : datum.value == 'd1' ? 'Grid1-EGM2008' : datum.value == 'd2' ? 'Grid2-EGM2008' : 'Grid3-EGM2008'"}},
            "strokeDash": {"field": "s", "type": "nominal", "scale": {"domain": ["g1", "g2", "g3", "e", "d1", "d2", "d3"], "range": [[1, 0], [1, 0], [1, 0], [1, 0], [4, 3], [4, 3], [4, 3]]}},
            "strokeWidth": {"field": "s", "type": "nominal", "scale": {"type": "ordinal", "domain": ["g1", "g2", "g3", "e", "d1", "d2", "d3"], "range": [2.5, 2.5, 1, 1, 1, 1, 1]}}
          }
        },
        {
          "mark": {"type": "point", "opacity": 0},
          "encoding": {
            "x": {"field": "x", "type": "quantitative"},
            "y": {"datum": 0.5, "type": "quantitative", "scale": {"domain": [0, 1], "nice": false}, "axis": {"orient": "right", "values": [0, 0.1, 0.2, 0.3, 0.4, 0.5, 0.6, 0.7, 0.8, 0.9, 1], "format": "~g", "title": "Differences(mGal)", "titleAngle": 270, "titleBaseline": "top", "labelColor": "#77ac30", "domainColor": "#77ac30", "tickColor": "#77ac30", "titleColor": "#77ac30", "grid": false}}
          }
        }
      ],
      "resolve": {"scale": {"y": "independent"}}
    }
  ]
}
